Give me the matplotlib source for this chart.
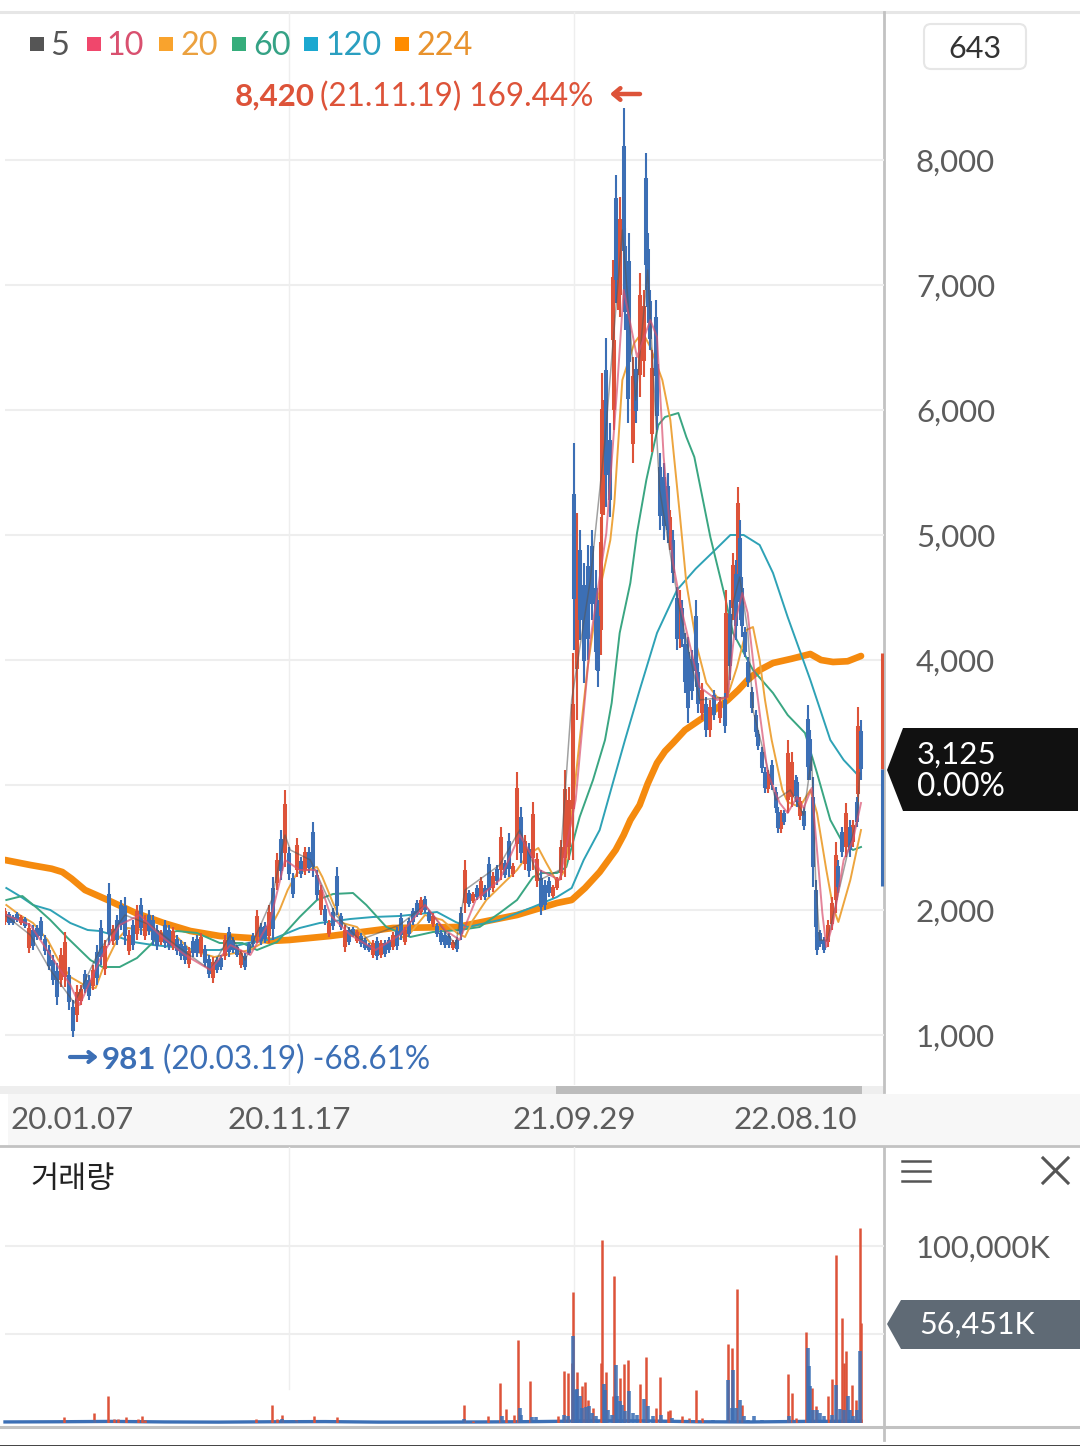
import matplotlib
matplotlib.use("Agg")
import matplotlib.pyplot as plt
from matplotlib.patches import Polygon, Rectangle, FancyBboxPatch

plt.rcParams['font.family'] = ['Lato', 'DejaVu Sans']

# price candles, one sampled bar per few sessions
candle_session = [
    0, 3, 6, 9, 12, 15, 18, 21, 24, 27,
    30, 33, 36, 39, 42, 45, 48, 51, 54, 57,
    60, 63, 66, 69, 72, 75, 78, 81, 84, 87,
    90, 93, 96, 99, 102, 105, 108, 111, 114, 117,
    120, 123, 126, 129, 132, 135, 138, 141, 144, 147,
    150, 153, 156, 159, 162, 165, 168, 171, 174, 177,
    180, 183, 186, 189, 192, 195, 198, 201, 204, 207,
    210, 213, 216, 219, 222, 225, 228, 231, 234, 237,
    240, 243, 246, 249, 252, 255, 258, 261, 264, 267,
    270, 273, 276, 279, 282, 285, 288, 291, 294, 297,
    300, 303, 306, 309, 312, 315, 318, 321, 324, 327,
    330, 333, 336, 339, 342, 345, 348, 351, 354, 357,
    360, 363, 366, 369, 372, 375, 378, 381, 384, 387,
    390, 393, 396, 399, 402, 405, 408, 411, 414, 417,
    420, 423, 426, 427, 429, 431, 434, 437, 440, 443,
    445, 447, 448, 449, 451, 454, 456, 457, 458, 460,
    461, 464, 465, 467, 468, 471, 473, 476, 479, 481,
    482, 484, 485, 488, 489, 491, 494, 497, 499, 501,
    504, 506, 508, 510, 512, 515, 518, 520, 523, 526,
    529, 532, 536, 540, 541, 544, 546, 548, 550, 551,
    553, 555, 557, 560, 563, 565, 568, 570, 572, 575,
    578, 580, 582, 584, 587, 590, 593, 594, 596, 599,
    602, 604, 606, 608, 609, 611, 614, 617, 620, 623,
    625, 628, 631, 634, 636, 639, 640, 642,
]
candle_high = [
    2016, 1984, 1960, 1984, 1960, 1944, 1896, 1880, 1880, 1944,
    1800, 1720, 1640, 1576, 1696, 1824, 1544, 1280, 1400, 1400,
    1520, 1480, 1560, 1720, 1920, 1760, 2216, 1880, 1960, 2080,
    2104, 1840, 1920, 2040, 2096, 1960, 2000, 1960, 1880, 1840,
    1920, 1880, 1864, 1800, 1760, 1744, 1704, 1784, 1800, 1816,
    1720, 1640, 1624, 1624, 1640, 1800, 1864, 1784, 1720, 1680,
    1656, 1744, 1816, 2000, 1896, 1904, 2040, 2264, 2456, 2640,
    2960, 2504, 2296, 2576, 2424, 2504, 2504, 2704, 2320, 2200,
    2040, 1920, 2016, 2344, 1976, 1880, 1864, 1864, 1840, 1816,
    1776, 1736, 1760, 1784, 1760, 1760, 1784, 1824, 1864, 1976,
    1864, 1936, 2016, 2080, 2104, 2112, 2000, 1976, 1896, 1840,
    1824, 1816, 1760, 1784, 2024, 2400, 2160, 2144, 2200, 2264,
    2200, 2424, 2304, 2360, 2664, 2400, 2616, 2376, 3104, 2824,
    2600, 2536, 2864, 2456, 2320, 2240, 2264, 2200, 2264, 2560,
    3120, 2984, 4056, 5736, 5176, 5040, 4776, 4920, 5040, 4720,
    4480, 5144, 6296, 6080, 6576, 5896, 7200, 6720, 7880, 7440,
    7704, 8420, 7456, 6960, 7416, 6424, 6424, 7096, 6960, 8056,
    7416, 6960, 6480, 6880, 6480, 5656, 5576, 5496, 5200, 5040,
    4584, 4560, 4480, 4216, 4184, 4080, 4480, 3976, 3816, 3704,
    3680, 3760, 3704, 3736, 4560, 4480, 4856, 4800, 5384, 5120,
    4664, 4264, 4024, 3784, 3600, 3440, 3304, 3144, 3120, 3200,
    2984, 2824, 2800, 2800, 3360, 3264, 3080, 3064, 2904, 2824,
    3640, 3440, 3064, 2240, 1864, 1840, 1784, 1920, 2104, 2544,
    2400, 2664, 2856, 2720, 2720, 2904, 3624, 3520,
]
candle_low = [
    1880, 1880, 1880, 1904, 1880, 1856, 1656, 1680, 1760, 1760,
    1640, 1520, 1400, 1240, 1384, 1384, 1200, 981, 1104, 1240,
    1336, 1280, 1360, 1400, 1560, 1480, 1720, 1720, 1720, 1840,
    1720, 1640, 1680, 1760, 1800, 1760, 1800, 1720, 1680, 1720,
    1696, 1680, 1680, 1640, 1600, 1568, 1536, 1624, 1624, 1624,
    1544, 1456, 1416, 1496, 1520, 1600, 1624, 1656, 1624, 1536,
    1520, 1640, 1704, 1736, 1720, 1736, 1736, 1760, 2160, 2240,
    2344, 2240, 2096, 2264, 2256, 2280, 2296, 2264, 2080, 1960,
    1880, 1784, 1840, 1960, 1840, 1664, 1720, 1784, 1736, 1704,
    1680, 1664, 1616, 1600, 1616, 1624, 1656, 1680, 1680, 1760,
    1720, 1784, 1880, 1944, 1960, 1976, 1896, 1864, 1784, 1720,
    1696, 1696, 1680, 1664, 1760, 1976, 2024, 2056, 2080, 2080,
    2080, 2104, 2144, 2200, 2240, 2256, 2264, 2264, 2400, 2376,
    2320, 2264, 2320, 2184, 1960, 2000, 2104, 2096, 2160, 2240,
    2264, 2400, 2400, 4080, 3520, 4160, 3816, 4000, 4320, 3920,
    3784, 4040, 4880, 5160, 5224, 5144, 6424, 5840, 6856, 6800,
    6744, 6960, 6640, 5896, 6160, 5576, 5896, 6104, 6264, 6960,
    6696, 6480, 5664, 6136, 5840, 5040, 4960, 4936, 4880, 4616,
    4080, 4096, 4104, 3736, 3496, 3680, 3784, 3576, 3520, 3384,
    3384, 3520, 3496, 3416, 3520, 3840, 4320, 4160, 4664, 4320,
    4184, 4024, 3784, 3576, 3384, 3280, 3096, 2936, 2936, 2960,
    2776, 2616, 2616, 2680, 2776, 2824, 2880, 2824, 2720, 2640,
    3040, 3040, 2184, 1784, 1640, 1704, 1656, 1704, 1840, 1976,
    2136, 2424, 2424, 2424, 2504, 2664, 2776, 3040,
]
# sessions that closed up, drawn red
up_sessions = {
    0, 12, 18, 42, 45, 54, 57, 66, 75, 81, 93, 99, 105, 117, 126, 138, 147,
    156, 165, 177, 189, 198, 204, 210, 219, 225, 237, 243, 255, 264, 276,
    282, 291, 300, 312, 321, 336, 345, 351, 357, 366, 372, 381, 384, 390,
    396, 399, 411, 414, 417, 420, 423, 426, 429, 447, 448, 449, 456, 457,
    460, 461, 471, 476, 479, 485, 499, 506, 523, 529, 536, 541, 546, 550,
    572, 582, 587, 590, 596, 617, 620, 623, 631, 636, 640,
}

# moving averages
ma5_session = [0, 19, 34, 52, 71, 90, 109, 128, 154, 169, 180, 200, 210, 214, 229, 248, 266, 296,
               315, 338, 345, 371, 386, 401, 416, 425, 439, 450, 463, 473, 482, 491, 506, 521,
               542, 546, 551, 557, 561, 578, 589, 599, 605, 608, 611, 617, 625, 632, 639, 641]
ma5_value = [1960, 1800, 1520, 1256, 1680, 1960, 1880, 1720, 1520, 1800, 1600, 2080, 2600, 2480, 2400, 1960, 1760, 1880,
             2040, 1720, 2160, 2360, 2640, 2240, 2320, 3680, 4640, 5760, 7440, 6080, 7120, 5360, 4400, 3680,
             3704, 4456, 4664, 4240, 3600, 2880, 2960, 2760, 3224, 2240, 1760, 1760, 2136, 2456, 2720, 3096]

ma10_session = [1, 19, 34, 49, 56, 71, 86, 101, 116, 135, 154, 169, 184, 199, 210, 221, 233, 244, 259, 278,
                296, 315, 330, 341, 353, 371, 386, 401, 416, 428, 439, 451, 459, 464, 474, 484, 489, 494, 501,
                508, 514, 521, 534, 542, 548, 553, 557, 561, 566, 572, 581, 587, 594, 599, 605, 609, 613, 616,
                621, 629, 636, 642]
ma10_value = [1960, 1880, 1640, 1400, 1240, 1600, 1880, 1960, 1800, 1640, 1520, 1720, 1640, 1920, 2400, 2320, 2320, 1960, 1800, 1680,
              1800, 2040, 1840, 1760, 2080, 2240, 2600, 2320, 2240, 2880, 4160, 5016, 6160, 6960, 6424, 6720, 6584, 5624, 4776,
              4376, 4104, 3784, 3680, 3704, 4320, 4536, 4376, 4000, 3576, 3096, 2856, 2776, 2904, 2816, 2976, 2480, 1976, 1704,
              1896, 2400, 2560, 2856]

ma20_session = [1, 11, 21, 32, 40, 49, 62, 68, 73, 84, 92, 104, 116, 129, 139, 157, 184, 194, 197, 206, 212, 219, 234, 238,
                246, 253, 264, 274, 283, 294, 304, 315, 328, 339, 345, 351, 361, 371, 384, 392, 400, 406, 414, 420,
                426, 431, 437, 444, 454, 457, 463, 472, 478, 484, 493, 499, 506, 511, 519, 526, 534, 541, 549, 556,
                561, 566, 570, 575, 583, 587, 596, 604, 609, 616, 621, 625, 634, 642]
ma20_value = [2040, 1960, 1896, 1760, 1600, 1464, 1384, 1376, 1520, 1760, 1856, 1840, 1824, 1784, 1680, 1624, 1680, 1744, 1816, 2000, 2160, 2296, 2344, 2264,
              2056, 1896, 1864, 1736, 1680, 1760, 1816, 1960, 1920, 1816, 1784, 1920, 2080, 2184, 2320, 2440, 2496, 2376, 2224, 2320,
              2856, 3360, 3944, 4456, 4960, 5256, 6240, 6536, 6624, 6504, 6240, 5920, 5176, 4616, 4104, 3816, 3704, 3680, 3944, 4240,
              4264, 4000, 3680, 3360, 2960, 2864, 2824, 2960, 2776, 2320, 2024, 1904, 2240, 2640]

ma60_session = [1, 13, 24, 34, 47, 64, 73, 86, 99, 109, 116, 129, 144, 161, 178, 189, 204, 221, 234, 246, 261, 271, 286, 304,
                321, 341, 356, 371, 384, 396, 403, 414, 421, 431, 441, 450, 455, 461, 469, 474, 481, 490, 495, 505,
                511, 517, 529, 540, 546, 561, 576, 587, 600, 609, 619, 628, 636, 642]
ma60_value = [2080, 2112, 2016, 1920, 1776, 1600, 1544, 1544, 1616, 1720, 1800, 1832, 1816, 1736, 1736, 1680, 1744, 1944, 2080, 2128, 2136, 2040, 1864, 1784,
              1824, 1840, 1864, 1976, 2080, 2264, 2296, 2296, 2344, 2744, 3040, 3360, 3656, 4216, 4616, 5016, 5440, 5880, 5944, 5976,
              5784, 5624, 4984, 4504, 4216, 3920, 3736, 3560, 3416, 3096, 2720, 2544, 2480, 2504]

ma120_session = [1, 11, 21, 34, 49, 62, 71, 81, 96, 111, 126, 144, 161, 182, 201, 221, 236, 259, 276, 296, 324, 338, 347, 371,
                 396, 414, 425, 434, 446, 456, 465, 476, 489, 504, 518, 531, 544, 554, 566, 576, 587, 604, 619, 629, 641]
ma120_value = [2176, 2112, 2040, 2000, 1896, 1840, 1832, 1800, 1744, 1720, 1704, 1680, 1680, 1736, 1768, 1856, 1896, 1928, 1944, 1952, 1984, 1904, 1864, 1920,
               2024, 2104, 2176, 2400, 2640, 3020, 3360, 3760, 4216, 4560, 4730, 4864, 5000, 5000, 4920, 4696, 4344, 3840, 3360, 3200, 3064]

ma224_session = [0, 19, 35, 43, 50, 60, 77, 98, 119, 139, 161, 184, 199, 213, 244, 291, 339, 384, 414, 425, 435, 446,
                 458, 464, 469, 476, 482, 489, 495, 501, 510, 521, 532, 542, 550, 557, 566, 576, 590, 604, 612, 621, 632, 642]
ma224_value = [2400, 2360, 2330, 2304, 2250, 2160, 2080, 1976, 1896, 1832, 1792, 1776, 1752, 1760, 1792, 1856, 1864, 1960, 2056, 2080, 2176, 2304,
               2480, 2600, 2720, 2840, 3010, 3176, 3270, 3336, 3440, 3520, 3600, 3680, 3760, 3840, 3920, 3976, 4010, 4048, 4000, 3984, 3990, 4032]

# volume in thousands of shares
vol_up_session = [44, 67, 77, 82, 85, 91, 100, 103, 105, 188, 200, 204, 208, 218, 232, 249, 344, 351, 362, 371, 376, 382, 385, 394, 415,
                  419, 422, 425, 426, 429, 433, 435, 437, 441, 447, 448, 451, 456, 457, 461, 464, 467, 476, 481, 488, 491, 497, 499,
                  508, 513, 518, 523, 542, 545, 549, 553, 587, 590, 593, 601, 605, 608, 617, 620, 623, 628, 629, 631, 635, 638, 641, 642]
vol_up_value = [3400, 5600, 15400, 2400, 2400, 3400, 2400, 3800, 1900, 2400, 10400, 2200, 4700, 1500, 4100, 3200, 10400, 900, 3800, 22600, 8100, 4700, 47000, 23500, 4100,
                29200, 28200, 33900, 73800, 28800, 20700, 23000, 13200, 8500, 33900, 103600, 28800, 15000, 82900, 25400, 33500, 35400, 22200, 37300, 8500, 26000, 6600, 7500,
                3800, 2800, 18500, 2800, 44600, 42200, 75700, 10400, 27900, 17000, 2800, 51400, 19800, 9800, 15400, 24900, 94700, 59300, 33900, 40500, 21500, 13200, 110200, 56451]

vol_down_session = [67, 208, 218, 344, 373, 386, 387, 395, 398, 419, 422, 426, 428, 429, 431, 433, 436, 438, 440, 443, 445, 449, 450, 452, 455,
                    458, 459, 461, 463, 465, 468, 471, 474, 479, 482, 486, 492, 495, 500, 504, 512, 521, 531, 542, 545, 546, 548, 551, 554,
                    557, 562, 568, 576, 588, 592, 598, 602, 603, 604, 606, 609, 611, 614, 616, 620, 623, 626, 629, 632, 634, 636, 639, 641]
vol_down_value = [1900, 2200, 1300, 2500, 4100, 8500, 4700, 3400, 3200, 4700, 3800, 49300, 18800, 19200, 15000, 8500, 9000, 9800, 5600, 3800, 1900, 22200, 18800, 7500, 4700,
                  33000, 15000, 12200, 10400, 6600, 17900, 5600, 4700, 13700, 9400, 3800, 4700, 1900, 2800, 1500, 1500, 900, 1500, 24500, 8500, 30100, 8500, 13200, 3800,
                  1900, 3800, 1500, 500, 3800, 1900, 500, 42400, 32000, 20700, 7500, 7500, 5600, 3800, 1500, 4700, 21700, 7900, 7500, 15000, 7500, 3800, 7500, 40500]

# quiet days along the bottom of the volume panel
quiet_session = [0, 40, 80, 120, 160, 200, 240, 280, 320, 360, 400, 440, 480, 520, 560, 600, 642]
quiet_value = [600, 700, 900, 600, 500, 700, 800, 500, 500, 600, 800, 1200, 1200, 700, 600, 900, 1000]

# today's range at the right edge
today_high, today_close, today_low = 4056, 3125, 2192

price_ticks = [1000, 2000, 3000, 4000, 5000, 6000, 7000, 8000]
date_ticks = [50, 213, 427, 593]
date_labels = ["20.01.07", "20.11.17", "21.09.29", "22.08.10"]

RED = "#dd5339"
BLUE = "#3c6fb5"
GRID = "#eeeeee"
TICK = "#5c5c5c"
W, H = 1080, 1446


def rect(x0, y0, x1, y1):
    # pixel box of the reference to figure fractions
    return [x0 / W, 1 - y1 / H, (x1 - x0) / W, (y1 - y0) / H]


fig = plt.figure(figsize=(10.8, 14.46), dpi=100, facecolor="white")

# backdrop: bands and frame lines
back = fig.add_axes([0, 0, 1, 1], zorder=0)
back.set_xlim(0, W)
back.set_ylim(H, 0)
back.axis("off")
back.add_patch(Rectangle((8, 1094), 1072, 51, color="#f7f7f7", lw=0))
back.add_patch(Rectangle((0, 1086), 884, 8, color="#eeeeee", lw=0))
back.add_patch(Rectangle((556, 1086), 306, 8, color="#bcbcbc", lw=0))
back.plot([0, W], [12, 12], color="#e6e6e6", lw=2.2)
back.plot([0, W], [1146, 1146], color="#c2c2c2", lw=2)
back.plot([0, W], [1426.5, 1426.5], color="#c2c2c2", lw=2.2)
back.plot([0, W], [1445.5, 1445.5], color="#222222", lw=1.2)
back.plot([884, 884], [12, 1092], color="#c2c2c2", lw=2)
back.plot([884, 884], [1147, 1440], color="#c2c2c2", lw=2)

# price panel, 4/3 px per session
ax = fig.add_axes(rect(5, 12, 884, 1085), zorder=1)
ax.patch.set_alpha(0)
ax.set_xlim(0, 659.25)
ax.set_ylim(600, 9184)
for s in ax.spines.values():
    s.set_visible(False)
ax.yaxis.tick_right()
ax.set_yticks(price_ticks)
ax.set_yticklabels([f"{v:,}" if v != 3000 else "" for v in price_ticks], ha="left")
ax.tick_params(axis="y", length=0, pad=23, labelsize=22.5, labelcolor=TICK)
ax.set_xticks(date_ticks)
ax.set_xticklabels(date_labels)
ax.tick_params(axis="x", length=0, pad=15, labelsize=22.5, labelcolor=TICK)
ax.grid(axis="y", color=GRID, lw=1.5, zorder=0)
ax.set_axisbelow(True)
for s in [213, 427]:
    ax.axvline(s, color=GRID, lw=1, zorder=0)

ax.plot(ma224_session, ma224_value, color="#f58a0e", lw=4.8, zorder=2, solid_capstyle="round", solid_joinstyle="round")
ax.plot(ma120_session, ma120_value, color="#2ea2b6", lw=1.4, zorder=2)
ax.plot(ma60_session, ma60_value, color="#3aa682", lw=1.4, zorder=2)
ax.plot(ma20_session, ma20_value, color="#eda53e", lw=1.4, zorder=2)


def draw_candles(sessions, lows, highs, colour, z):
    # thin wick plus a thicker body around the middle of each range
    ax.vlines(sessions, lows, highs, color=colour, lw=1.5, zorder=z)
    mids = [(a + b) / 2 for a, b in zip(lows, highs)]
    half = [min((b - a) * 0.32, 420) for a, b in zip(lows, highs)]
    ax.vlines(sessions, [m - h for m, h in zip(mids, half)], [m + h for m, h in zip(mids, half)],
              color=colour, lw=2.9, zorder=z)


up = [s in up_sessions for s in candle_session]
draw_candles([s for s, u in zip(candle_session, up) if u],
             [v for v, u in zip(candle_low, up) if u],
             [v for v, u in zip(candle_high, up) if u], RED, 3)
draw_candles([s for s, u in zip(candle_session, up) if not u],
             [v for v, u in zip(candle_low, up) if not u],
             [v for v, u in zip(candle_high, up) if not u], BLUE, 4)
ax.plot(ma5_session, ma5_value, color="#555555", lw=1.1, zorder=5, alpha=0.55)
ax.plot(ma10_session, ma10_value, color="#d9506f", lw=1.4, zorder=5, alpha=0.7)

ax.vlines(658, today_close, today_high, color=RED, lw=2.2, zorder=6, clip_on=False)
ax.vlines(658, today_low, today_close, color=BLUE, lw=2.2, zorder=6, clip_on=False)

# volume panel
vol = fig.add_axes(rect(5, 1147, 884, 1423), zorder=1)
vol.patch.set_alpha(0)
vol.set_xlim(0, 659.25)
vol.set_ylim(0, 155932)
for s in vol.spines.values():
    s.set_visible(False)
vol.set_xticks([])
vol.yaxis.tick_right()
vol.set_yticks([50000, 100000])
vol.set_yticklabels(["", "100,000K"], ha="left")
vol.tick_params(axis="y", length=0, pad=23, labelsize=22.3, labelcolor=TICK)
vol.grid(axis="y", color=GRID, lw=1.5, zorder=0)
vol.set_axisbelow(True)
vol.axvline(427, color=GRID, lw=1, zorder=0)
vol.plot([213, 213], [19000, 155932], color=GRID, lw=1, zorder=0)
vol.plot(quiet_session, quiet_value, color=BLUE, lw=2.4, zorder=2, clip_on=False)
vol.vlines(vol_up_session, 0, vol_up_value, color=RED, lw=1.8, zorder=3)
vol.vlines(vol_down_session, 0, vol_down_value, color=BLUE, lw=2.6, zorder=4, alpha=0.88)

# labels in reference pixels
top = fig.add_axes([0, 0, 1, 1], zorder=2)
top.set_xlim(0, W)
top.set_ylim(H, 0)
top.axis("off")

legend = [("5", 30, 50, "#555555", "#555555"), ("10", 87, 106, "#f0476c", "#d9506f"),
          ("20", 159, 180, "#f9a32d", "#eba13f"), ("60", 232, 253, "#35ad7b", "#35a285"),
          ("120", 304, 325, "#1ba8d0", "#2a9fc0"), ("224", 395, 416, "#ff8c00", "#e8922d")]
for name, sx, tx, sq, col in legend:
    top.add_patch(Rectangle((sx, 37), 14, 14, color=sq, lw=0))
    top.text(tx, 46, name, color=col, fontsize=23.3, va="center", ha="left")

top.text(235, 97, "8,420", color=RED, fontsize=22.5, fontweight="bold", va="center")
top.text(320, 97, "(21.11.19) 169.44%", color=RED, fontsize=22.7, va="center")
top.annotate("", xy=(610, 94), xytext=(640, 94),
             arrowprops=dict(arrowstyle="->,head_width=0.42,head_length=0.5", color=RED, lw=3.2, shrinkA=0, shrinkB=0))
top.annotate("", xy=(98, 1057), xytext=(70, 1057),
             arrowprops=dict(arrowstyle="->,head_width=0.36,head_length=0.45", color=BLUE, lw=3.0, shrinkA=0, shrinkB=0))
top.text(102, 1060, "981", color=BLUE, fontsize=22.5, fontweight="bold", va="center")
top.text(163, 1060, "(20.03.19) -68.61%", color=BLUE, fontsize=22.7, va="center")

top.add_patch(FancyBboxPatch((924, 24), 102, 45, boxstyle="round,pad=0,rounding_size=7",
                             fc="white", ec="#e6e6e6", lw=1.5))
top.text(975, 49, "643", color="#333333", fontsize=22, ha="center", va="center")

top.add_patch(Polygon([(887, 770), (903, 728), (1078, 728), (1078, 811), (903, 811)], color="#111111", lw=0))
top.text(917, 755, "3,125", color="white", fontsize=22.5, va="center")
top.text(917, 787, "0.00%", color="white", fontsize=22.8, va="center")

top.add_patch(Polygon([(887, 1324), (901, 1300), (1080, 1300), (1080, 1349), (901, 1349)], color="#5f6a75", lw=0))
top.text(919, 1325, "56,451K", color="white", fontsize=22, va="center")

top.text(30, 1179, "거래량", family=["Noto Sans CJK KR", "DejaVu Sans"], color="#222222", fontsize=22, va="center")

for y in [1161, 1171, 1181]:
    top.plot([902, 930], [y, y], color="#555555", lw=1.8)
top.plot([1043, 1068], [1158, 1183], color="#555555", lw=2.2)
top.plot([1043, 1068], [1183, 1158], color="#555555", lw=2.2)

fig.savefig("out.png", dpi=100)
